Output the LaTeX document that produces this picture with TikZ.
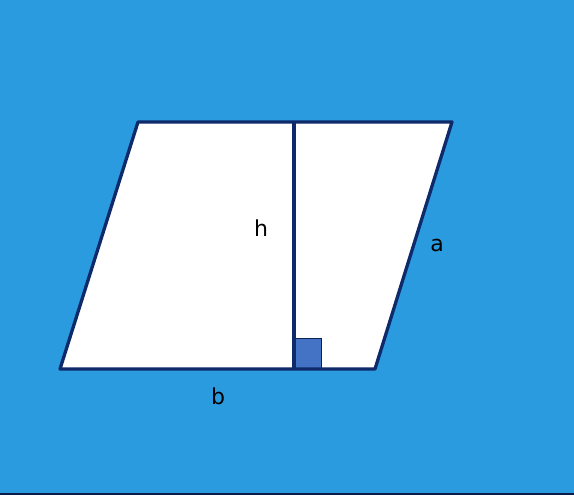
\documentclass[tikz,border=0pt]{standalone}
\usepackage{fontspec}
\setmainfont{DejaVu Sans}
\definecolor{bg}{HTML}{2B9BE0}
\definecolor{navy}{HTML}{0E2A6A}
\definecolor{sq}{HTML}{4472C4}
\begin{document}
\begin{tikzpicture}[x=1pt,y=-1pt,
  edge/.style={draw=navy,line width=3.3pt,line join=round},
  lbl/.style={font=\fontsize{22}{26}\selectfont,text=black,inner sep=0pt}]
\fill[bg] (0,0) rectangle (574,495);
\useasboundingbox (0,0) rectangle (574,495);
\fill[navy!70!black] (0,493) rectangle (574,495);
\coordinate (A) at (60,369);
\coordinate (B) at (375,369);
\coordinate (C) at (452,122);
\coordinate (D) at (138,122);
\coordinate (T) at (294,122);
\coordinate (F) at (294,369);
\fill[white] (A) -- (B) -- (C) -- (D) -- cycle;
\draw[draw=navy!80!black,fill=sq,line width=1pt] (F) rectangle (321,338);
\draw[edge] (T) -- (F);
\draw[edge] (A) -- (B) -- (C) -- (D) -- cycle;
\node[lbl] (h) at (261,228) {h};
\node[lbl] (a) at (437,245) {a};
\node[lbl] (b) at (218,396) {b};
\end{tikzpicture}
\end{document}
